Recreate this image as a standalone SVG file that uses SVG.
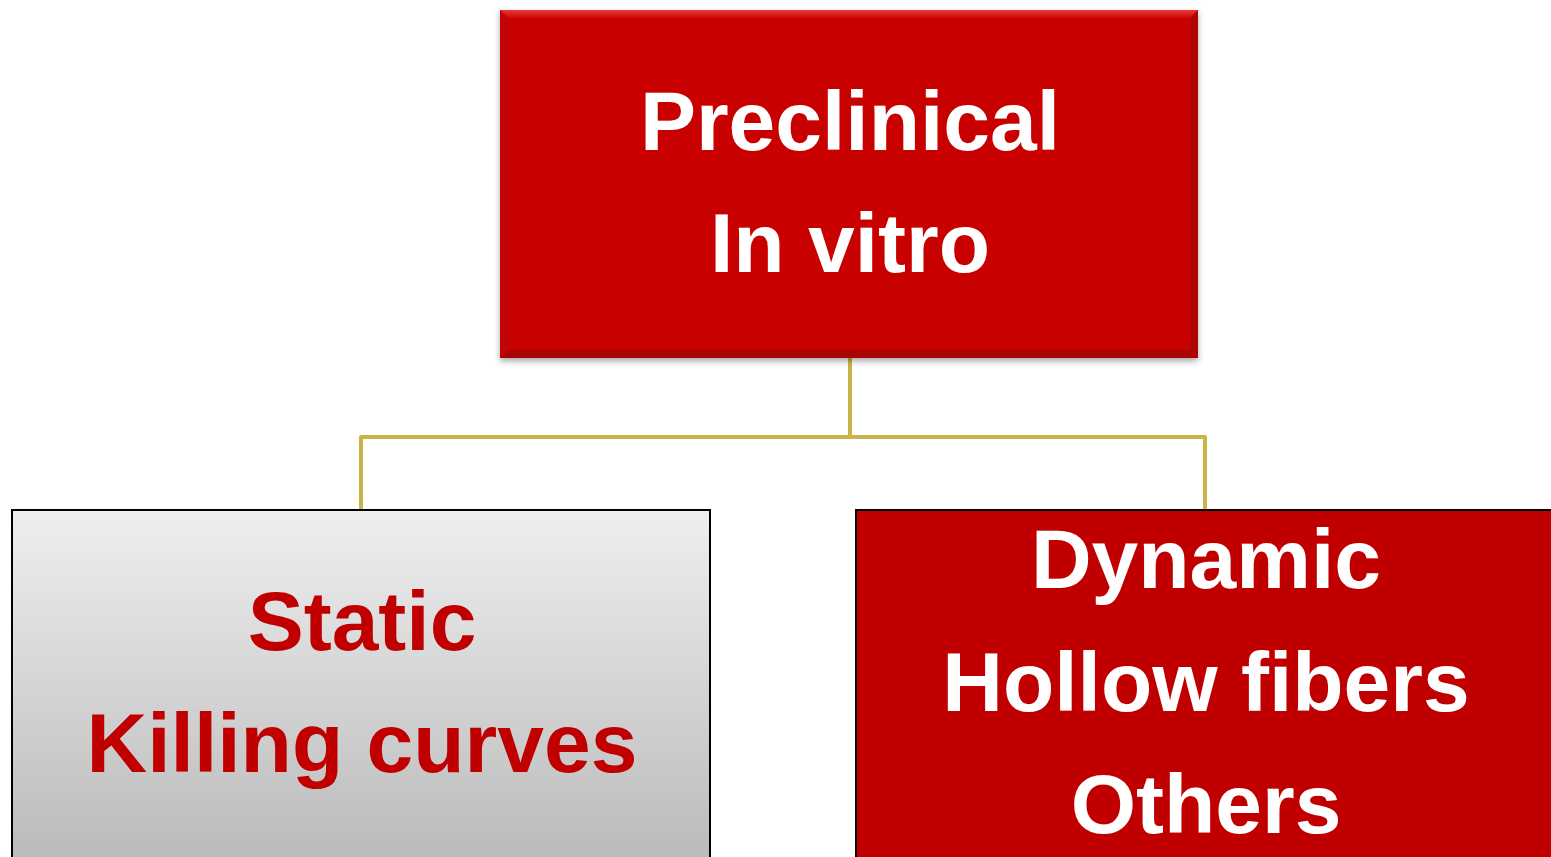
<svg xmlns="http://www.w3.org/2000/svg" width="1551" height="857" viewBox="0 0 1551 857">
<defs>
<linearGradient id="grey" x1="0" y1="0" x2="0" y2="1">
<stop offset="0" stop-color="#efefef"/>
<stop offset="1" stop-color="#b9b9b9"/>
</linearGradient>
<linearGradient id="topEdge" x1="0" y1="0" x2="0" y2="1">
<stop offset="0" stop-color="#e83a3a"/>
<stop offset="1" stop-color="#cc0808"/>
</linearGradient>
<filter id="shadow" x="-5%" y="-5%" width="110%" height="115%">
<feDropShadow dx="0" dy="3" stdDeviation="3" flood-color="#000" flood-opacity="0.35"/>
</filter>
</defs>
<style>
.t{font-family:"Liberation Sans",Arial,sans-serif;font-weight:bold;font-size:84px;text-anchor:middle}
.w{fill:#ffffff}
.r{fill:#c00000}
.conn{fill:none;stroke:#c8b447;stroke-width:4;stroke-linejoin:round}
</style>
<rect width="1551" height="857" fill="#ffffff"/>
<g id="connectors">
<path class="conn" d="M850,358 V437 M361,510 V437 H1205 V510"/>
</g>
<g id="preclinical">
<rect x="500" y="10" width="698" height="348" fill="#c80606" filter="url(#shadow)"/>
<polygon points="500,10 1198,10 1190,18 508,18" fill="url(#topEdge)"/>
<polygon points="500,358 1198,358 1190,350 508,350" fill="#a80404"/>
<polygon points="500,10 508,18 508,350 500,358" fill="#bf0505"/>
<polygon points="1198,10 1190,18 1190,350 1198,358" fill="#b00404"/>
<text class="t w" x="850" y="150">Preclinical</text>
<text class="t w" x="850" y="272">In vitro</text>
</g>
<g id="static">
<rect x="12" y="510" width="698" height="360" fill="url(#grey)" stroke="#000" stroke-width="2"/>
<text class="t r" x="362" y="650">Static</text>
<text class="t r" x="362" y="772">Killing curves</text>
</g>
<g id="dynamic">
<rect x="856" y="510" width="710" height="360" fill="#c00000" stroke="#000" stroke-width="2"/>
<text class="t w" x="1206" y="588">Dynamic</text>
<text class="t w" x="1206" y="711">Hollow fibers</text>
<text class="t w" x="1206" y="833">Others</text>
</g>
</svg>
